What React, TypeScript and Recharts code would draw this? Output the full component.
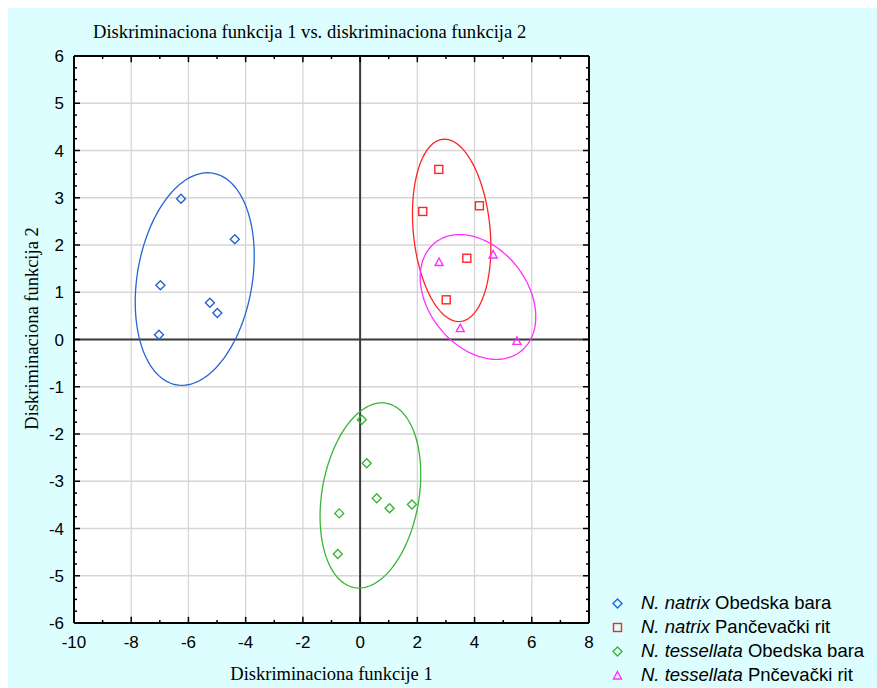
import { CartesianGrid, Legend, ReferenceLine, Scatter, ScatterChart, XAxis, YAxis } from "recharts";

// scores on the two discriminant functions
const natrixObedska = [
  { x: -6.26, y: 2.98 },
  { x: -4.38, y: 2.12 },
  { x: -6.98, y: 1.15 },
  { x: -5.25, y: 0.78 },
  { x: -4.99, y: 0.56 },
  { x: -7.03, y: 0.1 },
];
const natrixPancevo = [
  { x: 2.75, y: 3.6 },
  { x: 2.19, y: 2.71 },
  { x: 4.17, y: 2.83 },
  { x: 3.73, y: 1.72 },
  { x: 3.01, y: 0.84 },
];
const tessellataObedska = [
  { x: 0.06, y: -1.7 },
  { x: 0.23, y: -2.62 },
  { x: 0.58, y: -3.36 },
  { x: 1.03, y: -3.57 },
  { x: 1.81, y: -3.49 },
  { x: -0.73, y: -3.68 },
  { x: -0.78, y: -4.54 },
];
const tessellataPancevo = [
  { x: 2.76, y: 1.64 },
  { x: 4.65, y: 1.8 },
  { x: 3.5, y: 0.24 },
  { x: 5.48, y: -0.03 },
];

// ellipse: center x, center y, half width, half height, x offset of top point
const natrixObedskaEllipse = [-5.78, 1.28, 2.08, 2.25, 0.45];
const natrixPancevoEllipse = [3.2, 2.31, 1.37, 1.93, -0.25];
const tessellataObedskaEllipse = [0.36, -3.3, 1.76, 1.96, 0.4];
const tessellataPancevoEllipse = [4.12, 0.9, 2.02, 1.32, -0.64];

const xMajorTicks = [-10, -8, -6, -4, -2, 0, 2, 4, 6, 8];
const xMinorTicks = [-9, -7, -5, -3, -1, 1, 3, 5, 7];
const yMajorTicks = [-6, -5, -4, -3, -2, -1, 0, 1, 2, 3, 4, 5, 6];
const yMinorTicks = [
  -5.75, -5.5, -5.25, -4.75, -4.5, -4.25, -3.75, -3.5, -3.25, -2.75, -2.5, -2.25,
  -1.75, -1.5, -1.25, -0.75, -0.5, -0.25, 0.25, 0.5, 0.75, 1.25, 1.5, 1.75,
  2.25, 2.5, 2.75, 3.25, 3.5, 3.75, 4.25, 4.5, 4.75, 5.25, 5.5, 5.75,
];

const X_DOMAIN = [-10, 8];
const Y_DOMAIN = [-6, 6];

const SANS = '"Liberation Sans", Arial, sans-serif';
const SERIF = '"Liberation Serif", "Times New Roman", serif';

type Kind = "diamond" | "square" | "triangle";

const groups: { species: string; site: string; color: string; kind: Kind; points: { x: number; y: number }[]; ellipse: number[] }[] = [
  { species: "N. natrix", site: "Obedska bara", color: "#2465d2", kind: "diamond", points: natrixObedska, ellipse: natrixObedskaEllipse },
  { species: "N. natrix", site: "Pančevački rit", color: "#ff2424", kind: "square", points: natrixPancevo, ellipse: natrixPancevoEllipse },
  { species: "N. tessellata", site: "Obedska bara", color: "#38b638", kind: "diamond", points: tessellataObedska, ellipse: tessellataObedskaEllipse },
  { species: "N. tessellata", site: "Pnčevački rit", color: "#ff30ff", kind: "triangle", points: tessellataPancevo, ellipse: tessellataPancevoEllipse },
];

function outline([cx, cy, hx, hy, off]: number[]) {
  const w = Math.sqrt(hx * hx - off * off);
  const n = 120;
  return Array.from({ length: n + 1 }, (_, k) => {
    const t = (2 * Math.PI * k) / n;
    return { x: cx + off * Math.sin(t) + w * Math.cos(t), y: cy + hy * Math.sin(t) };
  });
}

// inward tick marks on all four sides of the frame (lengths in axis units)
function frameTicks() {
  const [x0, x1] = X_DOMAIN;
  const [y0, y1] = Y_DOMAIN;
  const segs: { x: number; y: number }[][] = [];
  const vert = (vals: number[], len: number) =>
    vals.forEach((v) => {
      segs.push([{ x: v, y: y0 }, { x: v, y: y0 + len }]);
      segs.push([{ x: v, y: y1 }, { x: v, y: y1 - len }]);
    });
  const horiz = (vals: number[], len: number) =>
    vals.forEach((v) => {
      segs.push([{ x: x0, y: v }, { x: x0 + len, y: v }]);
      segs.push([{ x: x1, y: v }, { x: x1 - len, y: v }]);
    });
  vert(xMajorTicks, 0.13);
  vert(xMinorTicks, 0.065);
  horiz(yMajorTicks, 0.21);
  horiz(yMinorTicks, 0.105);
  return segs;
}

function Marker({ kind, cx, cy, color }: { kind: Kind; cx: number; cy: number; color: string }) {
  const common = { fill: "none", stroke: color, strokeWidth: 1.4 };
  if (kind === "square") return <rect x={cx - 4} y={cy - 4} width={8} height={8} {...common} />;
  if (kind === "triangle")
    return <path d={`M${cx},${cy - 4}L${cx + 4},${cy + 3.5}L${cx - 4},${cy + 3.5}Z`} {...common} />;
  return <path d={`M${cx},${cy - 4.5}L${cx + 4.5},${cy}L${cx},${cy + 4.5}L${cx - 4.5},${cy}Z`} {...common} />;
}

function LegendBox() {
  return (
    <div style={{ fontFamily: SANS, fontSize: 18.5, color: "#000" }}>
      {groups.map((g) => (
        <div key={g.species + g.site} style={{ display: "flex", alignItems: "center", height: 24 }}>
          <svg width={17} height={17}>
            <Marker kind={g.kind} cx={8.5} cy={8.5} color={g.color} />
          </svg>
          <span style={{ marginLeft: 15, whiteSpace: "nowrap" }}>
            <i>{g.species}</i> {g.site}
          </span>
        </div>
      ))}
    </div>
  );
}

// vertical axis title, centred a little above the plot's middle like the original
function YTitle(props: any) {
  const vb = props.viewBox || { x: 0, y: 0, height: 0 };
  const x = vb.x + 24;
  const y = vb.y + vb.height / 2 - 11;
  return (
    <text x={0} y={0} transform={`translate(${x},${y}) rotate(-90)`} textAnchor="middle" fontSize={18.5} fontFamily={SERIF} fill="#000">
      Diskriminaciona funkcija 2
    </text>
  );
}

const frameStyle = { stroke: "#000", strokeWidth: 2 };

export default function App() {
  return (
    <div style={{ position: "absolute", left: 0, top: 0, width: 877, height: 688, background: "#fff" }}>
      <div style={{ position: "absolute", left: 8, top: 8, width: 869, height: 680, background: "#dcfefe" }}>
        <div
          style={{
            position: "absolute",
            left: 85,
            top: 13,
            fontFamily: SERIF,
            fontSize: 18.6,
            lineHeight: "22px",
            whiteSpace: "nowrap",
            color: "#000",
          }}
        >
          Diskriminaciona funkcija 1 vs. diskriminaciona funkcija 2
        </div>
        <ScatterChart width={869} height={680} margin={{ top: 48, right: 288, bottom: 35, left: 6 }}>
          <CartesianGrid xAxisId="x" yAxisId="y" stroke="#d6d6d6" strokeWidth={1.3} fill="#ffffff" />
          <XAxis
            xAxisId="x"
            type="number"
            dataKey="x"
            domain={X_DOMAIN}
            allowDataOverflow
            ticks={xMajorTicks}
            interval={0}
            tickLine={false}
            axisLine={frameStyle}
            tickMargin={7}
            height={30}
            tick={{ fontSize: 17, fill: "#000", fontFamily: SANS }}
            label={{ value: "Diskriminaciona funkcije 1", position: "bottom", offset: 14, fill: "#000", fontSize: 18.5, fontFamily: SERIF }}
          />
          <YAxis
            yAxisId="y"
            type="number"
            dataKey="y"
            domain={Y_DOMAIN}
            allowDataOverflow
            ticks={yMajorTicks}
            interval={0}
            tickLine={false}
            axisLine={frameStyle}
            tickMargin={4}
            width={60}
            tick={{ fontSize: 17, fill: "#000", fontFamily: SANS }}
            label={<YTitle />}
          />
          <ReferenceLine xAxisId="x" yAxisId="y" x={0} stroke="#3c3c3c" strokeWidth={2} />
          <ReferenceLine xAxisId="x" yAxisId="y" y={0} stroke="#3c3c3c" strokeWidth={2} />
          <ReferenceLine xAxisId="x" yAxisId="y" y={Y_DOMAIN[1]} stroke="#000" strokeWidth={2} />
          <ReferenceLine xAxisId="x" yAxisId="y" x={X_DOMAIN[1]} stroke="#000" strokeWidth={2} />
          {frameTicks().map((s, i) => (
            <ReferenceLine key={"t" + i} xAxisId="x" yAxisId="y" segment={s} stroke="#000" strokeWidth={1.5} />
          ))}
          {groups.map((g) => (
            <Scatter
              key={"e" + g.species + g.site}
              xAxisId="x"
              yAxisId="y"
              data={outline(g.ellipse)}
              line={{ stroke: g.color, strokeWidth: 1.3 }}
              lineType="joint"
              shape={() => <g />}
              legendType="none"
              isAnimationActive={false}
            />
          ))}
          {groups.map((g) => (
            <Scatter
              key={"p" + g.species + g.site}
              xAxisId="x"
              yAxisId="y"
              data={g.points}
              shape={(p: any) => <Marker kind={g.kind} cx={p.cx} cy={p.cy} color={g.color} />}
              isAnimationActive={false}
            />
          ))}
          <Legend layout="vertical" align="center" verticalAlign="middle" width={268} wrapperStyle={{ left: 601, top: 583 }} content={() => <LegendBox />} />
        </ScatterChart>
      </div>
    </div>
  );
}
